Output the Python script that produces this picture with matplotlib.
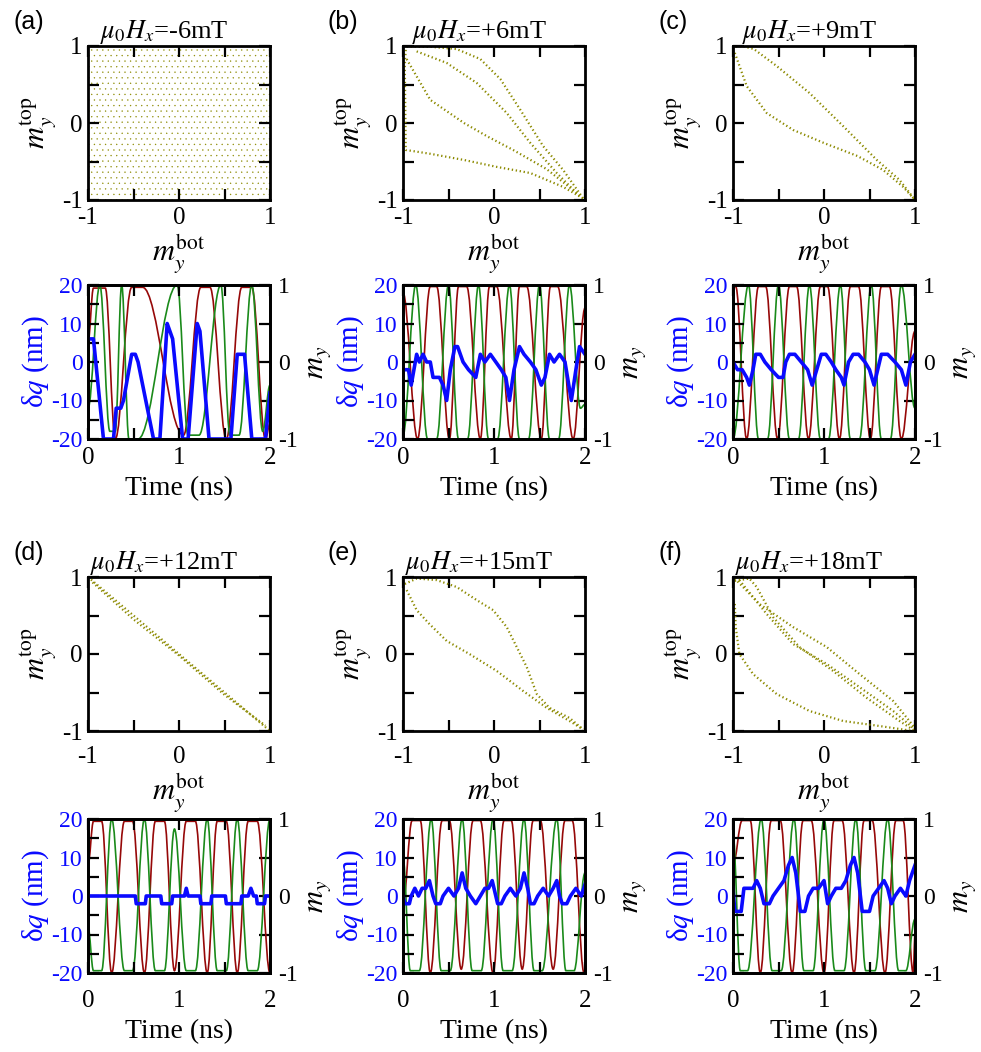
import matplotlib
matplotlib.use('Agg')
import matplotlib.pyplot as plt
from matplotlib.path import Path
from matplotlib.patches import PathPatch, Rectangle
from matplotlib.ticker import MultipleLocator

plt.rcParams['font.family'] = ['Liberation Serif', 'DejaVu Serif']
plt.rcParams['mathtext.fontset'] = 'stix'
plt.rcParams['axes.unicode_minus'] = False
plt.rcParams['hatch.linewidth'] = 0.2

OLIVE = '#8c8a00'
RED = '#960808'
GREEN = '#1a8a1a'
BLUE = '#0a0aff'

# ---- panel titles / labels ----
panel_tags = ['(a)', '(b)', '(c)', '(d)', '(e)', '(f)']
field_text = ['-6mT', '+6mT', '+9mT', '+12mT', '+15mT', '+18mT']

# ---- m_y^top vs m_y^bot trajectories (branches) ----
loops_b = [
    ([-0.96, -0.7, -0.41, -0.15, 0.07, 0.29, 0.54, 0.76, 0.98],
     [0.99, 0.99, 0.96, 0.83, 0.57, 0.17, -0.30, -0.61, -0.98]),
    ([-0.85, -0.52, -0.19, 0.14, 0.40, 0.69, 0.95],
     [0.93, 0.78, 0.52, 0.13, -0.26, -0.65, -0.96]),
    ([-0.96, -0.7, -0.33, -0.08, 0.21, 0.58, 0.91],
     [0.83, 0.30, 0.0, -0.17, -0.35, -0.60, -0.91]),
    ([-0.97, -0.98, -0.97, -0.7, -0.33, 0.03, 0.40, 0.76, 0.98],
     [0.95, 0.75, -0.35, -0.40, -0.48, -0.57, -0.65, -0.83, -0.98]),
]
loops_c = [
    ([-0.97, -0.9, -0.77, -0.52, -0.16, 0.21, 0.58, 0.83, 1.0],
     [0.99, 1.0, 0.96, 0.74, 0.39, -0.04, -0.48, -0.74, -1.0]),
    ([-0.98, -0.85, -0.63, -0.34, 0.0, 0.37, 0.65, 0.87, 1.0],
     [0.91, 0.48, 0.13, -0.09, -0.26, -0.43, -0.61, -0.83, -1.0]),
]
loops_d = [
    ([-1.0, -0.5, 0.0, 0.5, 1.0], [1.0, 0.5, 0.0, -0.5, -1.0]),
    ([-0.95, -0.5, 0.0, 0.5, 0.95], [0.93, 0.45, -0.02, -0.53, -0.93]),
]
loops_e = [
    ([-0.98, -0.85, -0.63, -0.41, -0.19, -0.01, 0.14, 0.25, 0.36, 0.47, 0.61, 0.83, 0.98],
     [0.91, 0.98, 0.96, 0.87, 0.70, 0.57, 0.35, 0.09, -0.17, -0.52, -0.70, -0.83, -0.98]),
    ([-0.96, -0.85, -0.71, -0.52, -0.27, 0.03, 0.32, 0.58, 0.83, 0.98],
     [0.83, 0.57, 0.39, 0.17, 0.0, -0.22, -0.48, -0.70, -0.87, -0.98]),
]
loops_f = [
    ([-0.98, -0.71, -0.34, 0.03, 0.39, 0.76, 1.0],
     [0.98, 0.65, 0.35, 0.09, -0.26, -0.61, -0.96]),
    ([-0.93, -0.63, -0.34, 0.03, 0.39, 0.76, 1.0],
     [0.96, 0.52, 0.13, -0.13, -0.43, -0.74, -0.98]),
    ([-0.98, -0.82, -0.74, -0.56, -0.27, 0.10, 0.47, 0.83, 1.0],
     [0.95, 0.98, 0.87, 0.48, 0.09, -0.22, -0.57, -0.87, -1.0]),
    ([-0.98, -0.97, -0.93, -0.78, -0.52, -0.16, 0.21, 0.58, 0.98],
     [0.65, 0.35, 0.0, -0.26, -0.52, -0.74, -0.87, -0.93, -1.0]),
]

# ---- time traces: extrema of m_y (red, green) and dq breakpoints (blue) ----
red_t_a = [0.0, 0.06, 0.19, 0.30, 0.48, 0.60, 1.05, 1.24, 1.34, 1.52, 1.69, 1.80, 1.95, 2.0]
red_v_a = [0.25, 0.96, 0.96, -1.0, 0.97, 0.97, -0.95, 0.97, 0.97, -1.0, 0.97, 0.97, -1.0, -0.8]
green_t_a = [0.0, 0.13, 0.24, 0.30, 0.37, 0.45, 0.55, 0.98, 1.10, 1.22, 1.46, 1.56, 1.66, 1.80, 1.92, 2.0]
green_v_a = [-0.6, 1.0, -0.9, -0.9, 1.0, -1.0, -1.0, 1.0, -0.95, -0.95, 1.0, -0.95, -0.95, 1.0, -0.9, -0.3]
blue_t_a = [0.0, 0.06, 0.17, 0.28, 0.31, 0.36, 0.39, 0.48, 0.52, 0.55, 0.72, 0.79, 0.87, 0.90, 0.93,
            1.04, 1.10, 1.20, 1.23, 1.33, 1.57, 1.64, 1.72, 1.80, 1.95, 2.0]
blue_v_a = [6, 6, -20, -20, -12, -12, -10, 2, 2, 0, -20, -20, 10, 8, 6,
            -20, -20, 10, 8, -20, -20, 2, 2, -20, -20, -8]

red_t_b = [0.0, 0.16, 0.30, 0.37, 0.51, 0.61, 0.70, 0.85, 0.95, 1.03, 1.19, 1.28, 1.36, 1.52, 1.62, 1.70, 1.87, 2.0]
red_v_b = [0.9, -1.0, 0.98, 0.98, -1.0, 0.98, 0.98, -1.0, 0.98, 0.98, -1.0, 0.98, 0.98, -1.0, 0.98, 0.98, -1.0, 0.7]
green_t_b = [0.0, 0.14, 0.27, 0.37, 0.50, 0.61, 0.71, 0.83, 0.94, 1.04, 1.17, 1.28, 1.38, 1.50, 1.61, 1.71, 1.83, 1.95, 2.0]
green_v_b = [-0.95, 1.0, -1.0, -1.0, 1.0, -1.0, -1.0, 1.0, -1.0, -1.0, 1.0, -1.0, -1.0, 1.0, -1.0, -1.0, 1.0, -0.6, -0.55]
blue_t_b = [0.0, 0.06, 0.09, 0.15, 0.18, 0.22, 0.26, 0.30, 0.33, 0.40, 0.44, 0.48, 0.52, 0.57, 0.60, 0.66, 0.72, 0.80,
            0.85, 0.90, 0.96, 1.02, 1.08, 1.13, 1.17, 1.22, 1.28, 1.33, 1.40, 1.46, 1.52, 1.56, 1.61, 1.66, 1.72,
            1.78, 1.85, 1.90, 1.94, 2.0]
blue_v_b = [-2, -2, -6, 2, 0, 2, 0, 0, -4, -4, -6, -10, -2, 4, 4, 0, -2, -4,
            2, 0, 2, 0, -2, -4, -10, -2, 4, 2, 0, -2, -6, -4, 2, 0, 2,
            0, -10, -2, 4, 2]

red_t_c = [0.0, 0.03, 0.15, 0.28, 0.36, 0.49, 0.62, 0.70, 0.83, 0.96, 1.04, 1.17, 1.29, 1.38, 1.51, 1.63, 1.72, 1.85, 2.0]
red_v_c = [0.98, 0.98, -1.0, 0.98, 0.98, -1.0, 0.98, 0.98, -1.0, 0.98, 0.98, -1.0, 0.98, 0.98, -1.0, 0.98, 0.98, -1.0, 0.4]
green_t_c = [0.0, 0.17, 0.28, 0.38, 0.50, 0.62, 0.72, 0.84, 0.96, 1.05, 1.18, 1.29, 1.39, 1.52, 1.63, 1.73, 1.85, 2.0]
green_v_c = [-1.0, 1.0, -1.0, -1.0, 1.0, -1.0, -1.0, 1.0, -1.0, -1.0, 1.0, -1.0, -1.0, 1.0, -1.0, -1.0, 1.0, -0.6]
blue_t_c = [0.0, 0.05, 0.10, 0.15, 0.18, 0.22, 0.25, 0.30, 0.35, 0.42, 0.50, 0.55, 0.58, 0.62, 0.68, 0.75, 0.82, 0.87,
            0.92, 0.97, 1.02, 1.08, 1.13, 1.19, 1.22, 1.27, 1.32, 1.38, 1.45, 1.50, 1.55, 1.59, 1.63, 1.70, 1.78,
            1.85, 1.90, 1.95, 2.0]
blue_v_c = [0, -2, -2, -4, -6, -2, 2, 2, 0, -2, -4, -4, 0, 2, 2, 0, -2, -6,
            -2, 2, 2, 0, -2, -4, -6, 0, 2, 2, 0, -2, -6, -2, 2, 2, 0,
            -2, -6, 0, 2]

red_t_d = [0.0, 0.06, 0.15, 0.26, 0.40, 0.49, 0.62, 0.74, 0.84, 0.95, 1.08, 1.18, 1.31, 1.42, 1.52, 1.64, 1.76, 1.86, 2.0]
red_v_d = [0.4, 0.97, 0.97, -1.0, 0.97, 0.97, -1.0, 0.97, 0.97, -0.97, 0.97, 0.97, -1.0, 0.97, 0.97, -1.0, 0.97, 0.97, -1.0]
green_t_d = red_t_d
green_v_d = [-0.4, -0.97, -0.97, 1.0, -0.97, -0.97, 1.0, -0.97, -0.97, 0.87, -0.97, -0.97, 1.0, -0.97, -0.97, 1.0, -0.97, -0.97, 1.0]
blue_t_d = [0.0, 0.52, 0.53, 0.63, 0.64, 0.80, 0.81, 0.92, 0.93, 1.06, 1.08, 1.10, 1.23, 1.24, 1.35, 1.36,
            1.51, 1.52, 1.68, 1.69, 1.76, 1.79, 1.82, 1.85, 1.86, 1.94, 1.95, 2.0]
blue_v_d = [0, 0, -2, -2, 0, 0, -2, -2, 0, 0, 2, 0, 0, -2, -2, 0,
            0, -2, -2, 0, 0, 2, 0, 0, -2, -2, 0, 0]

red_t_e = [0.0, 0.10, 0.19, 0.30, 0.43, 0.51, 0.64, 0.77, 0.85, 0.99, 1.11, 1.19, 1.31, 1.43, 1.51, 1.65, 1.78, 1.86, 1.99]
red_v_e = [-0.1, 0.98, 0.98, -1.0, 0.98, 0.98, -0.95, 0.98, 0.98, -1.0, 0.98, 0.98, -0.95, 0.98, 0.98, -0.95, 0.98, 0.98, -1.0]
green_t_e = [0.0, 0.08, 0.18, 0.31, 0.42, 0.52, 0.65, 0.76, 0.86, 0.99, 1.10, 1.20, 1.33, 1.44, 1.53, 1.69, 1.79, 1.88, 2.0]
green_v_e = [0.5, -0.97, -0.97, 1.0, -0.97, -0.97, 1.0, -0.97, -0.97, 1.0, -0.97, -0.97, 1.0, -0.97, -0.97, 1.0, -0.97, -0.97, 0.3]
blue_t_e = [0.0, 0.02, 0.07, 0.09, 0.13, 0.17, 0.21, 0.25, 0.29, 0.33, 0.36, 0.41, 0.44, 0.50, 0.56, 0.61,
            0.65, 0.69, 0.74, 0.80, 0.85, 0.90, 0.94, 0.98, 1.02, 1.04, 1.08, 1.12, 1.18, 1.24, 1.29, 1.33,
            1.37, 1.40, 1.44, 1.48, 1.54, 1.60, 1.65, 1.69, 1.72, 1.75, 1.80, 1.84, 1.90, 1.96, 2.0]
blue_v_e = [0, -2, -2, 0, 2, 0, 2, 2, 4, 0, -2, -2, 0, 2, 0, 2,
            6, 2, 0, -2, 0, 2, 2, 4, 0, -2, -2, 0, 2, 0, 2, 6,
            2, -2, -2, 0, 2, 0, 2, 4, 0, -2, -2, 0, 2, 0, 3]

red_t_f = [0.0, 0.10, 0.19, 0.30, 0.42, 0.52, 0.65, 0.77, 0.86, 1.00, 1.11, 1.20, 1.33, 1.44, 1.53, 1.67, 1.79, 1.87, 1.98, 2.0]
red_v_f = [0.4, 0.98, 0.98, -1.0, 0.98, 0.98, -1.0, 0.98, 0.98, -1.0, 0.98, 0.98, -1.0, 0.98, 0.98, -1.0, 0.98, 0.98, -1.0, -0.5]
green_t_f = [0.0, 0.08, 0.16, 0.31, 0.43, 0.53, 0.67, 0.78, 0.88, 1.00, 1.12, 1.22, 1.35, 1.46, 1.56, 1.70, 1.82, 1.90, 2.0]
green_v_f = [0.8, -0.97, -0.97, 1.0, -0.97, -0.97, 1.0, -0.97, -0.97, 1.0, -0.97, -0.97, 1.0, -0.97, -0.97, 1.0, -0.97, -0.97, -0.3]
blue_t_f = [0.0, 0.02, 0.05, 0.09, 0.12, 0.16, 0.22, 0.26, 0.30, 0.34, 0.40, 0.44, 0.50, 0.56, 0.61, 0.65,
            0.69, 0.74, 0.79, 0.83, 0.88, 0.94, 1.0, 1.04, 1.08, 1.13, 1.19, 1.24, 1.29, 1.33, 1.37, 1.42,
            1.50, 1.54, 1.60, 1.66, 1.70, 1.74, 1.78, 1.84, 1.90, 1.94, 2.0]
blue_v_f = [2, -4, -4, -4, 2, 2, 2, 4, 2, -2, -2, 0, 2, 4, 8, 10,
            6, -4, -4, 0, 2, 2, 4, -2, 0, 2, 2, 4, 8, 10, 6, -4,
            -4, 0, 2, 4, 2, -2, 0, 2, 0, 4, 8]

loops = [None, loops_b, loops_c, loops_d, loops_e, loops_f]
reds = [(red_t_a, red_v_a), (red_t_b, red_v_b), (red_t_c, red_v_c),
        (red_t_d, red_v_d), (red_t_e, red_v_e), (red_t_f, red_v_f)]
greens = [(green_t_a, green_v_a), (green_t_b, green_v_b), (green_t_c, green_v_c),
          (green_t_d, green_v_d), (green_t_e, green_v_e), (green_t_f, green_v_f)]
blues = [(blue_t_a, blue_v_a), (blue_t_b, blue_v_b), (blue_t_c, blue_v_c),
         (blue_t_d, blue_v_d), (blue_t_e, blue_v_e), (blue_t_f, blue_v_f)]


def smooth_trace(ax, ts, vs, color):
    # cubic Bezier segments with flat tangents at each listed extremum
    verts = [(ts[0], vs[0])]
    codes = [Path.MOVETO]
    for i in range(1, len(ts)):
        dt = ts[i] - ts[i - 1]
        verts += [(ts[i - 1] + 0.37 * dt, vs[i - 1]), (ts[i] - 0.37 * dt, vs[i]), (ts[i], vs[i])]
        codes += [Path.CURVE4] * 3
    ax.add_patch(PathPatch(Path(verts, codes), fill=False, edgecolor=color, lw=1.2, zorder=2))


def frame(ax):
    for s in ax.spines.values():
        s.set_linewidth(2.0)
    ax.tick_params(which='both', direction='in', width=1.6, length=8)


W = 182 / 981
lefts = [88 / 981, 403 / 981, 733 / 981]
rows = [(1 - 200 / 1052, 1 - 439 / 1052), (1 - 731 / 1052, 1 - 973 / 1052)]
H = 154 / 1052
xpads = [5, 11]      # scatter x tick label pad per row
tpads = [6, 12]      # time axis tick label pad per row

fig = plt.figure(figsize=(9.81, 10.52), dpi=100)

for k in range(6):
    r, c = divmod(k, 3)
    left = lefts[c]
    b_top, b_bot = rows[r]

    # scatter panel
    ax = fig.add_axes([left, b_top, W, H])
    frame(ax)
    ax.tick_params(which='both', top=True, right=True, labelsize=18, pad=4)
    ax.tick_params(axis='x', pad=xpads[r])
    ax.set_xlim(-1, 1)
    ax.set_ylim(-1, 1)
    ax.xaxis.set_major_locator(MultipleLocator(1))
    ax.yaxis.set_major_locator(MultipleLocator(1))
    ax.xaxis.set_minor_locator(MultipleLocator(0.5))
    ax.yaxis.set_minor_locator(MultipleLocator(0.5))
    if loops[k] is None:
        # trajectory fills the whole square: shown as a fine dot texture
        ax.add_patch(Rectangle((-1, -1), 2, 2, fill=False, hatch='...', edgecolor=OLIVE, lw=0))
    else:
        for xs, ys in loops[k]:
            ax.plot(xs, ys, color=OLIVE, lw=1.6, linestyle=(0, (0.6, 1.2)))
    ax.set_xlabel(r'$m_y^{\rm bot}$', fontsize=22, labelpad=2)
    ax.set_ylabel(r'$m_y^{\rm top}$', fontsize=22, labelpad=2)
    ax.set_title(r'$\mu_0H_x$=' + field_text[k], fontsize=19, x=0.42, pad=4)
    fig.text(left - 75 / 981, b_top + H + 12 / 1052, panel_tags[k], family='Liberation Sans',
             fontsize=18, va='bottom', ha='left')

    # time trace panel
    axq = fig.add_axes([left, b_bot, W, H])
    axm = axq.twinx()
    axq.set_zorder(axm.get_zorder() + 1)
    axq.patch.set_visible(False)
    frame(axq)
    frame(axm)
    axq.set_xlim(0, 2)
    axq.set_ylim(-20, 20)
    axm.set_ylim(-1, 1)
    axq.xaxis.set_major_locator(MultipleLocator(1))
    axq.xaxis.set_minor_locator(MultipleLocator(0.5))
    axq.yaxis.set_major_locator(MultipleLocator(10))
    axq.yaxis.set_minor_locator(MultipleLocator(5))
    axm.yaxis.set_major_locator(MultipleLocator(1))
    axm.yaxis.set_minor_locator(MultipleLocator(0.5))
    axq.tick_params(which='both', top=True, right=False)
    axq.tick_params(axis='x', labelsize=18, pad=tpads[r])
    axq.tick_params(axis='y', labelsize=17, labelcolor=BLUE, pad=4)
    axm.tick_params(axis='y', labelsize=17, pad=6)

    smooth_trace(axm, *reds[k], RED)
    smooth_trace(axm, *greens[k], GREEN)
    bt, bv = blues[k]
    axq.plot(bt, bv, color=BLUE, lw=2.6)

    axq.set_xlabel('Time (ns)', fontsize=20, labelpad=5)
    axq.set_ylabel('δ' + r'$q$' + ' (nm)', fontsize=21, color=BLUE, labelpad=0)
    axm.set_ylabel(r'$m_y$', fontsize=22, labelpad=4)

fig.savefig('out.png', dpi=100)
